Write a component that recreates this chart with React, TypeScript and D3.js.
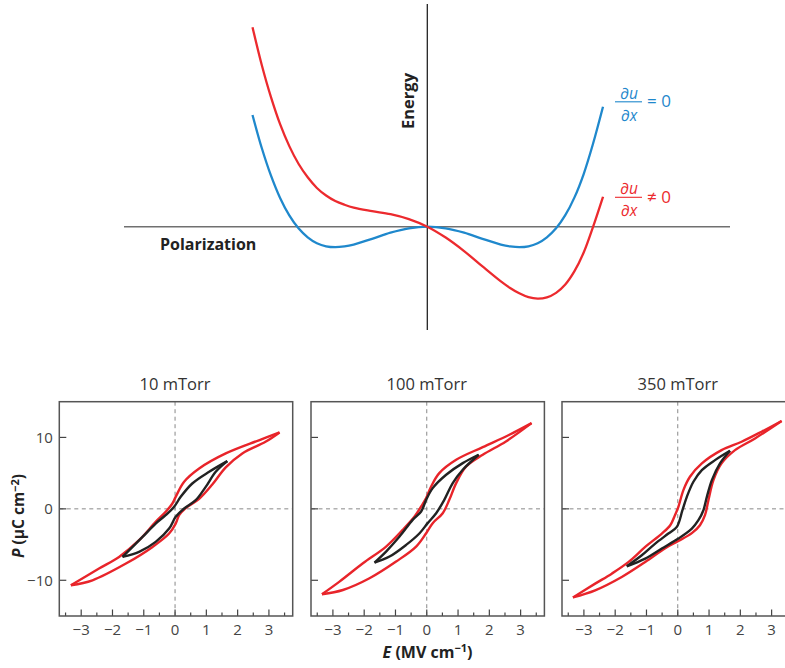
import React from "react";
import * as d3 from "d3";

// ---------- Top chart: energy landscape ----------
const polarization = [-1.9, -1.8, -1.7, -1.6, -1.5, -1.4, -1.3, -1.2, -1.1, -1.0, -0.9, -0.8, -0.6, -0.4, -0.2, 0, 0.2, 0.4, 0.6, 0.8, 0.9, 1.0, 1.1, 1.2, 1.3, 1.4, 1.5, 1.6, 1.7, 1.8, 1.91];
const energyZeroGrad = [5.45, 3.85, 2.5, 1.4, 0.55, -0.08, -0.52, -0.81, -0.96, -1.0, -0.96, -0.87, -0.59, -0.29, -0.08, 0, -0.08, -0.29, -0.59, -0.87, -0.96, -1.0, -0.96, -0.81, -0.52, -0.08, 0.56, 1.43, 2.57, 4.02, 5.85];
const energyNonZeroGrad = [9.73, 7.9, 6.33, 5.0, 3.93, 3.07, 2.41, 1.89, 1.52, 1.25, 1.07, 0.93, 0.76, 0.61, 0.37, 0, -0.53, -1.19, -1.94, -2.67, -2.99, -3.25, -3.44, -3.51, -3.45, -3.23, -2.82, -2.17, -1.26, -0.03, 1.46];

// ---------- Bottom panels: P–E hysteresis loops ([E, P]) ----------
const panelTitles = ["10 mTorr", "100 mTorr", "350 mTorr"];
const xTicks = [-3, -2, -1, 0, 1, 2, 3];
const xMinorTicks = [-3.5, -2.5, -1.5, -0.5, 0.5, 1.5, 2.5, 3.5];
const yTicks = [10, 0, -10];

const red10Upper = [[3.34, 10.7], [2.68, 9.6], [1.62, 7.76], [0.77, 5.65], [0.29, 3.79], [0.02, 1.68], [-0.085, 0.75], [-0.3, -0.42], [-0.62, -1.82], [-1.15, -4.39], [-1.79, -6.73], [-2.43, -8.36], [-3.33, -10.7]];
const red10Lower = [[-3.33, -10.7], [-2.64, -10.0], [-1.57, -7.66], [-0.72, -5.33], [-0.19, -3.46], [0.02, -2.06], [0.13, -0.89], [0.34, 0.1], [0.77, 1.4], [1.19, 3.4], [1.62, 5.8], [2.15, 7.76], [2.89, 9.39], [3.34, 10.7]];
const black10Upper = [[1.67, 6.68], [1.09, 5.19], [0.55, 3.55], [0.18, 1.68], [-0.03, 0.28], [-0.3, -0.89], [-0.62, -2.06], [-1.04, -3.93], [-1.68, -6.73]];
const black10Lower = [[-1.68, -6.73], [-1.15, -6.03], [-0.62, -4.63], [-0.19, -2.76], [0.02, -1.12], [0.29, 0.05], [0.66, 1.21], [0.98, 3.08], [1.3, 5.19], [1.67, 6.68]];

const red100Upper = [[3.35, 12.0], [2.64, 10.37], [1.79, 8.64], [0.94, 6.87], [0.4, 5.0], [0.14, 3.13], [-0.02, 1.5], [-0.18, 0.33], [-0.39, -1.07], [-0.77, -2.94], [-1.3, -5.28], [-2.04, -7.62], [-2.79, -10.19], [-3.35, -11.96]];
const red100Lower = [[-3.35, -11.96], [-2.68, -11.36], [-1.83, -9.72], [-0.98, -7.38], [-0.34, -5.28], [-0.02, -3.41], [0.19, -2.0], [0.51, -0.61], [0.72, 1.26], [0.94, 3.6], [1.26, 5.93], [1.79, 7.57], [2.53, 9.44], [3.35, 12.0]];
const black100Upper = [[1.66, 7.57], [1.15, 6.4], [0.62, 4.77], [0.19, 2.9], [-0.02, 1.26], [-0.18, -0.37], [-0.45, -1.54], [-0.87, -3.88], [-1.3, -5.98], [-1.67, -7.52]];
const black100Lower = [[-1.67, -7.52], [-1.19, -6.68], [-0.66, -5.05], [-0.23, -3.41], [0.03, -2.0], [0.3, -0.61], [0.56, 1.26], [0.83, 3.6], [1.15, 5.47], [1.66, 7.57]];

const red350Upper = [[3.32, 12.3], [2.68, 10.8], [2.04, 9.39], [1.4, 8.22], [0.77, 6.36], [0.39, 4.49], [0.18, 2.62], [0.02, 0.28], [-0.09, -0.89], [-0.24, -2.29], [-0.51, -3.46], [-1.04, -5.33], [-1.57, -7.43], [-2.11, -9.07], [-2.64, -10.47], [-3.35, -12.4]];
const red350Lower = [[-3.35, -12.4], [-2.64, -11.4], [-1.79, -9.53], [-1.04, -7.43], [-0.4, -5.5], [0.02, -4.5], [0.45, -3.4], [0.71, -2.29], [0.87, -0.89], [0.98, 1.21], [1.14, 4.02], [1.4, 6.36], [1.83, 8.22], [2.47, 9.86], [3.32, 12.3]];
const black350Upper = [[1.67, 8.13], [1.19, 6.82], [0.77, 5.42], [0.5, 3.79], [0.29, 1.68], [0.15, -0.19], [-0.03, -2.52], [-0.3, -3.46], [-0.72, -4.86], [-1.15, -6.5], [-1.63, -8.04]];
const black350Lower = [[-1.63, -8.04], [-1.04, -6.96], [-0.51, -5.56], [0.02, -4.16], [0.45, -2.76], [0.66, -1.59], [0.82, -0.19], [0.93, 1.68], [1.09, 4.02], [1.35, 6.36], [1.67, 8.13]];

const BLUE = "#1f88cc";
const RED_TOP = "#ec2a2e";
const RED = "#e8242a";
const BLACK = "#222";
const FONT = "'Open Sans', 'Noto Sans', sans-serif";

function TopChart() {
  const x = d3.scaleLinear().domain([-1.9, 1.91]).range([252.5, 603]);
  const y = d3.scaleLinear().domain([0, 5]).range([226.7, 124.2]);
  const line = d3
    .line<number>()
    .x((_, i) => x(polarization[i]))
    .y((d) => y(d))
    .curve(d3.curveCatmullRom.alpha(0.5));
  return (
    <g>
      <line x1={124} x2={730} y1={y(0)} y2={y(0)} stroke="#707070" strokeWidth={1.5} />
      <line x1={x(0)} x2={x(0)} y1={4} y2={330} stroke="#111" strokeWidth={1.2} />
      <path d={line(energyZeroGrad) || ""} fill="none" stroke={BLUE} strokeWidth={2.3} />
      <path d={line(energyNonZeroGrad) || ""} fill="none" stroke={RED_TOP} strokeWidth={2.3} />
      <text
        transform={`translate(414,101) rotate(-90)`}
        textAnchor="middle"
        fontFamily={FONT}
        fontWeight="bold"
        fontSize={16.5}
        fill="#222"
      >
        Energy
      </text>
      <text x={160} y={249.5} fontFamily={FONT} fontWeight="bold" fontSize={16} fill="#222">
        Polarization
      </text>
      {/* blue label */}
      <g fill={BLUE} fontFamily={FONT}>
        <text x={629} y={99} textAnchor="middle" fontStyle="italic" fontSize={15.5}>∂u</text>
        <line x1={615} x2={642} y1={101.8} y2={101.8} stroke={BLUE} strokeWidth={1.1} />
        <text x={629} y={120.5} textAnchor="middle" fontStyle="italic" fontSize={15.5}>∂x</text>
        <text x={647} y={107} fontSize={17}>= 0</text>
      </g>
      {/* red label */}
      <g fill={RED_TOP} fontFamily={FONT}>
        <text x={629} y={194.3} textAnchor="middle" fontStyle="italic" fontSize={15.5}>∂u</text>
        <line x1={615} x2={642} y1={197.3} y2={197.3} stroke={RED_TOP} strokeWidth={1.1} />
        <text x={629} y={216} textAnchor="middle" fontStyle="italic" fontSize={15.5}>∂x</text>
        <text x={647} y={202.5} fontSize={17}>≠ 0</text>
      </g>
    </g>
  );
}

type Pt = number[];
function Panel(props: {
  left: number;
  title: string;
  showY: boolean;
  redUp: Pt[];
  redLo: Pt[];
  blackUp: Pt[];
  blackLo: Pt[];
}) {
  const { left, title, showY } = props;
  const width = 233.4;
  const top = 401.7;
  const bottom = 616;
  const x = d3.scaleLinear().domain([-3.7, 3.76]).range([left, left + width]);
  const y = d3.scaleLinear().domain([-15, 15]).range([bottom, top]);
  const line = d3
    .line<Pt>()
    .x((d) => x(d[0]))
    .y((d) => y(d[1]))
    .curve(d3.curveCatmullRom.alpha(0.5));
  const fmt = (t: number) => (t < 0 ? "\u2212" + Math.abs(t) : String(t));
  return (
    <g>
      <text x={x(0)} y={390} textAnchor="middle" fontFamily={FONT} fontSize={16.5} fill="#333">
        {title}
      </text>
      <line x1={x(0)} x2={x(0)} y1={top} y2={bottom} stroke="#888" strokeWidth={1} strokeDasharray="4,3.5" />
      <line x1={left} x2={left + width} y1={y(0)} y2={y(0)} stroke="#888" strokeWidth={1} strokeDasharray="4,3.5" />
      {xTicks.map((t) => (
        <g key={"xt" + t}>
          <line x1={x(t)} x2={x(t)} y1={bottom} y2={bottom - 6.5} stroke="#444" strokeWidth={1.2} />
          <text x={x(t)} y={634.5} textAnchor="middle" fontFamily={FONT} fontSize={15} fill="#444">
            {fmt(t)}
          </text>
        </g>
      ))}
      {xMinorTicks.map((t) => (
        <line key={"xm" + t} x1={x(t)} x2={x(t)} y1={bottom} y2={bottom - 3.5} stroke="#444" strokeWidth={1.2} />
      ))}
      {yTicks.map((t) => (
        <g key={"yt" + t}>
          <line x1={left} x2={left + 7} y1={y(t)} y2={y(t)} stroke="#444" strokeWidth={1.2} />
          {showY && (
            <text x={left - 6.5} y={y(t) + 5.3} textAnchor="end" fontFamily={FONT} fontSize={15} fill="#444">
              {fmt(t)}
            </text>
          )}
        </g>
      ))}
      <path d={line(props.redUp) || ""} fill="none" stroke={RED} strokeWidth={2.4} strokeLinejoin="round" />
      <path d={line(props.redLo) || ""} fill="none" stroke={RED} strokeWidth={2.4} strokeLinejoin="round" />
      <path d={line(props.blackUp) || ""} fill="none" stroke={BLACK} strokeWidth={2.4} strokeLinejoin="round" />
      <path d={line(props.blackLo) || ""} fill="none" stroke={BLACK} strokeWidth={2.4} strokeLinejoin="round" />
      <rect x={left} y={top} width={width} height={bottom - top} fill="none" stroke="#555" strokeWidth={1.5} />
    </g>
  );
}

export default function App() {
  const lefts = [59.3, 311, 562];
  const data = [
    [red10Upper, red10Lower, black10Upper, black10Lower],
    [red100Upper, red100Lower, black100Upper, black100Lower],
    [red350Upper, red350Lower, black350Upper, black350Lower],
  ];
  return (
    <svg
      width={785}
      height={668}
      style={{ position: "absolute", left: 0, top: 0, background: "#fff" }}
    >
      <rect x={0} y={0} width={785} height={668} fill="#fff" />
      <TopChart />
      {panelTitles.map((t, i) => (
        <Panel
          key={t}
          left={lefts[i]}
          title={t}
          showY={i === 0}
          redUp={data[i][0]}
          redLo={data[i][1]}
          blackUp={data[i][2]}
          blackLo={data[i][3]}
        />
      ))}
      <text
        transform="translate(24,516) rotate(-90)"
        textAnchor="middle"
        fontFamily={FONT}
        fontWeight="bold"
        fontSize={15.5}
        fill="#222"
      >
        <tspan fontStyle="italic">P</tspan>
        <tspan> (μC cm</tspan>
        <tspan dy={-5.5} fontSize={11}>−2</tspan>
        <tspan dy={5.5}>)</tspan>
      </text>
      <text x={427.5} y={657.5} textAnchor="middle" fontFamily={FONT} fontWeight="bold" fontSize={16} fill="#222">
        <tspan fontStyle="italic">E</tspan>
        <tspan> (MV cm</tspan>
        <tspan dy={-5.5} fontSize={11}>−1</tspan>
        <tspan dy={5.5}>)</tspan>
      </text>
    </svg>
  );
}
